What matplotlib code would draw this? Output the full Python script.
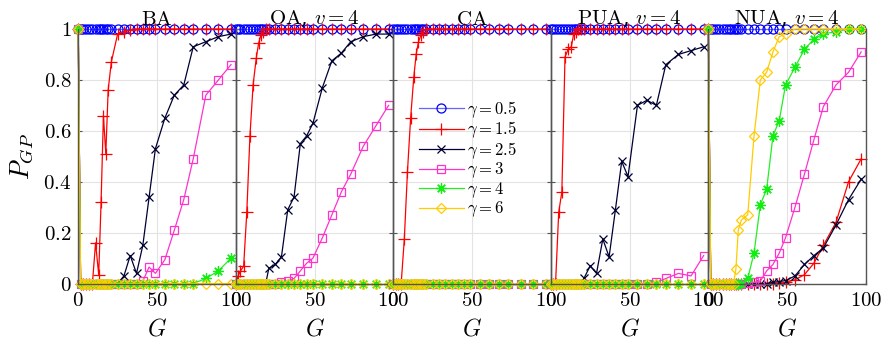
import matplotlib.pyplot as plt

# common G grid
G = [0, 1.5, 3, 5, 7, 9, 11, 13, 14.5, 16, 17.5, 19, 21, 25, 29, 33, 37, 41,
     45, 49, 55, 61, 67, 73, 81, 89, 97]

titles = ['BA', r'OA, $v=4$', 'CA', r'PUA, $v=4$', r'NUA, $v=4$']
gammas = ['0.5', '1.5', '2.5', '3', '4', '6']

ONES = [1, 1, 1, 1, 1, 1, 1, 1, 1, 1, 1, 1, 1, 1, 1, 1, 1, 1, 1, 1, 1, 1, 1, 1, 1, 1, 1]
ZEROS = [0, 0, 0, 0, 0, 0, 0, 0, 0, 0, 0, 0, 0, 0, 0, 0, 0, 0, 0, 0, 0, 0, 0, 0, 0, 0, 0]

# BA
ba_blue = ONES
ba_red = [1, 0, 0, 0, 0, 0, 0.16, 0.035, 0.32, 0.66, 0.51, 0.76, 0.87, 0.98,
          0.99, 0.995, 1, 1, 1, 1, 1, 1, 1, 1, 1, 1, 1]
ba_black = [1, 0, 0, 0, 0, 0, 0, 0, 0, 0, 0, 0, 0, 0,
            0.03, 0.11, 0.04, 0.15, 0.34, 0.53, 0.65, 0.74, 0.78, 0.93, 0.95, 0.97, 0.98]
ba_magenta = [1, 0, 0, 0, 0, 0, 0, 0, 0, 0, 0, 0, 0, 0, 0, 0, 0,
              0.01, 0.065, 0.04, 0.094, 0.21, 0.33, 0.49, 0.74, 0.80, 0.86]
ba_green = [1, 0, 0, 0, 0, 0, 0, 0, 0, 0, 0, 0, 0, 0, 0, 0, 0, 0, 0, 0, 0, 0, 0, 0,
            0.02, 0.05, 0.10]
ba_yellow = [1, 0, 0, 0, 0, 0, 0, 0, 0, 0, 0, 0, 0, 0, 0, 0, 0, 0, 0, 0, 0, 0, 0, 0, 0, 0, 0]

# OA, v=4
oa_blue = ONES
oa_red = [0, 0.03, 0.05, 0.068, 0.28, 0.58, 0.78, 0.885, 0.944, 0.976, 0.99,
          1, 1, 1, 1, 1, 1, 1, 1, 1, 1, 1, 1, 1, 1, 1, 1]
oa_black = [0, 0, 0, 0, 0, 0, 0, 0, 0, 0, 0, 0,
            0.06, 0.075, 0.105, 0.29, 0.34, 0.55, 0.58, 0.63, 0.77, 0.875, 0.905,
            0.95, 0.97, 0.98, 0.98]
oa_magenta = [0, 0, 0, 0, 0, 0, 0, 0, 0, 0, 0, 0, 0, 0,
              0.005, 0.01, 0.02, 0.05, 0.08, 0.10, 0.18, 0.27, 0.36, 0.43, 0.54, 0.62, 0.70]
oa_green = ZEROS
oa_yellow = ZEROS

# CA
ca_blue = ONES
ca_red = [0, 0, 0, 0, 0.175, 0.44, 0.65, 0.81, 0.90, 0.95, 0.975, 0.99,
          1, 1, 1, 1, 1, 1, 1, 1, 1, 1, 1, 1, 1, 1, 1]
ca_black = ZEROS
ca_magenta = ZEROS
ca_green = ZEROS
ca_yellow = ZEROS

# PUA, v=4
pua_blue = ONES
pua_red = [0, 0, 0, 0.28, 0.36, 0.89, 0.92, 0.93, 0.98, 0.99,
           1, 1, 1, 1, 1, 1, 1, 1, 1, 1, 1, 1, 1, 1, 1, 1, 1]
pua_black = [0, 0, 0, 0, 0, 0, 0, 0, 0, 0, 0, 0,
             0.02, 0.07, 0.04, 0.175, 0.105, 0.29, 0.48, 0.42, 0.70, 0.72, 0.70,
             0.86, 0.90, 0.915, 0.93]
pua_magenta = [0, 0, 0, 0, 0, 0, 0, 0, 0, 0, 0, 0, 0, 0, 0, 0, 0, 0, 0, 0, 0, 0,
               0.005, 0.02, 0.04, 0.03, 0.11]
pua_green = ZEROS
pua_yellow = ZEROS

# NUA, v=4
nua_blue = ONES
nua_red = [1, 0, 0, 0, 0, 0, 0, 0, 0, 0, 0, 0, 0, 0, 0, 0, 0, 0,
           0.003, 0.005, 0.015, 0.035, 0.08, 0.15, 0.24, 0.40, 0.49]
nua_black = [1, 0, 0, 0, 0, 0, 0, 0, 0, 0, 0, 0, 0, 0, 0, 0, 0,
             0.005, 0.008, 0.012, 0.03, 0.075, 0.11, 0.14, 0.23, 0.33, 0.41]
nua_magenta = [1, 0, 0, 0, 0, 0, 0, 0, 0, 0, 0, 0, 0,
               0.003, 0.005, 0.01, 0.05, 0.075, 0.12, 0.18, 0.30, 0.43, 0.565,
               0.695, 0.78, 0.83, 0.91]
nua_green = [1, 0, 0, 0, 0, 0, 0, 0, 0, 0, 0, 0, 0,
             0.02, 0.12, 0.31, 0.37, 0.58, 0.64, 0.78, 0.85, 0.92, 0.96, 0.98, 0.99, 1, 1]
nua_yellow = [1, 0, 0, 0, 0, 0, 0, 0, 0, 0,
              0.058, 0.21, 0.25, 0.27, 0.58, 0.80, 0.83, 0.91, 0.97, 0.98,
              1, 1, 1, 1, 1, 1, 1]

panels = [
    [ba_blue, ba_red, ba_black, ba_magenta, ba_green, ba_yellow],
    [oa_blue, oa_red, oa_black, oa_magenta, oa_green, oa_yellow],
    [ca_blue, ca_red, ca_black, ca_magenta, ca_green, ca_yellow],
    [pua_blue, pua_red, pua_black, pua_magenta, pua_green, pua_yellow],
    [nua_blue, nua_red, nua_black, nua_magenta, nua_green, nua_yellow],
]

# marker, marker colour, line colour, marker size
styles = [
    ('o', '#0000ff', '#6666ff', 6.5),
    ('+', '#ff0000', '#ff0000', 8),
    ('x', '#000033', '#000033', 6),
    ('s', '#ff33cc', '#ff33cc', 5.5),
    ((8, 2, 0), '#11ee11', '#22ee22', 7.5),
    ('D', '#ffcc00', '#ffcc00', 5.5),
]

plt.rcParams['mathtext.fontset'] = 'cm'
plt.rcParams['font.family'] = 'serif'
plt.rcParams['font.serif'] = ['DejaVu Serif']

fig, axes = plt.subplots(1, 5, figsize=(8.89, 3.45), dpi=100, sharey=True)
fig.subplots_adjust(left=0.088, right=0.974, bottom=0.178, top=0.916, wspace=0)

for i, ax in enumerate(axes):
    ax.set_facecolor('none')
    for series, (mk, mc, lc, ms), gam in zip(panels[i], styles, gammas):
        ax.plot(G, series, color=lc, lw=0.9, marker=mk, ms=ms, mec=mc,
                mfc='none', mew=0.9, clip_on=False, label=r'$\gamma=' + gam + '$')
    ax.set_xlim(0, 100)
    ax.set_ylim(0, 1)
    ax.set_xticks([0, 50, 100])
    ax.set_xticklabels(['$0$', '$50$', '$100$'], fontsize=15)
    ax.set_yticks([0, 0.2, 0.4, 0.6, 0.8, 1])
    ax.grid(True, color='#e3e3e3', lw=0.8)
    ax.set_axisbelow(True)
    ax.tick_params(direction='in', length=3, color='#555555', right=True,
                   labelleft=(i == 0), pad=5)
    for sp in ax.spines.values():
        sp.set_color('#555555')
        sp.set_linewidth(1.0)
    ax.spines['top'].set_visible(False)
    ax.set_xlabel('$G$', fontsize=17, labelpad=6)
    ax.set_title(r'$\mathrm{' + titles[i].split(',')[0] + '}$'
                 + (',' + titles[i].split(',')[1] if ',' in titles[i] else ''),
                 fontsize=15, pad=2)

axes[0].set_yticklabels(['$0$', '$0.2$', '$0.4$', '$0.6$', '$0.8$', '$1$'], fontsize=15)
axes[0].set_ylabel('$P_{GP}$', fontsize=19, labelpad=6)

axes[2].legend(loc='upper left', bbox_to_anchor=(0.12, 0.75), frameon=False,
               fontsize=12, handlelength=2.7, handletextpad=0.2, labelspacing=0.0,
               borderaxespad=0)

fig.savefig('out.png', dpi=100)
